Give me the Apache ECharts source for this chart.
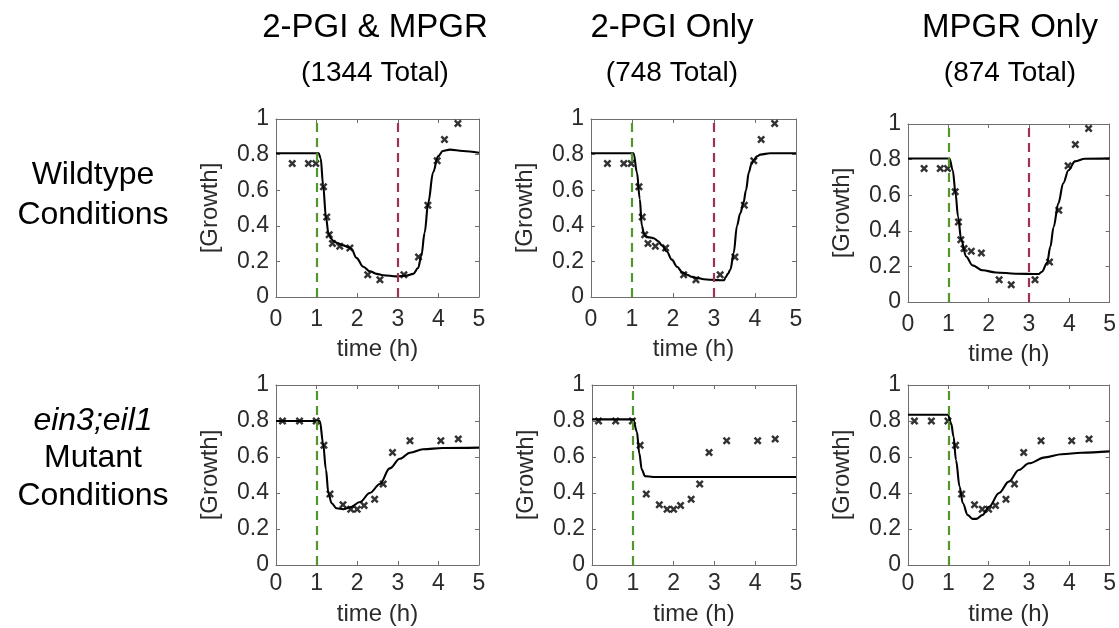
<!DOCTYPE html>
<html>
<head>
<meta charset="utf-8">
<script src="https://cdn.jsdelivr.net/npm/echarts@6/dist/echarts.min.js"></script>
<style>
html,body{margin:0;padding:0;background:#fff;}
#chart{width:1119px;height:628px;}
</style>
</head>
<body>
<div id="chart"></div>
<script>
// ---- Data ----
const columnTitles = ['2-PGI & MPGR', '2-PGI Only', 'MPGR Only'];
const columnTotals = ['(1344 Total)', '(748 Total)', '(874 Total)'];
const xTicks = [0, 1, 2, 3, 4, 5];
const yTicks = [0, 0.2, 0.4, 0.6, 0.8, 1];

// observed data (wildtype)
const wtTime   = [0.40, 0.80, 0.98, 1.17, 1.25, 1.31, 1.39, 1.57, 1.82, 2.26, 2.56, 3.15, 3.51, 3.74, 3.97, 4.15, 4.48];
const wtGrowth = [0.75, 0.75, 0.75, 0.62, 0.45, 0.35, 0.30, 0.285, 0.275, 0.125, 0.097, 0.125, 0.225, 0.515, 0.765, 0.885, 0.975];
// observed data (ein3;eil1 mutant)
const mutTime   = [0.16, 0.58, 0.99, 1.18, 1.33, 1.65, 1.84, 2.00, 2.17, 2.43, 2.64, 2.87, 3.30, 4.06, 4.49];
const mutGrowth = [0.80, 0.80, 0.80, 0.665, 0.395, 0.335, 0.31, 0.31, 0.33, 0.365, 0.45, 0.625, 0.69, 0.69, 0.70];

// model fits
const fit1T = [0, 1.05, 1.10, 1.16, 1.23, 1.29, 1.35, 1.41, 1.50, 1.66, 1.78, 1.86, 1.98, 2.15, 2.31, 2.48, 2.64, 2.97, 3.21, 3.38, 3.50, 3.58, 3.66, 3.75, 3.87, 3.99, 4.11, 4.28, 4.60, 5];
const fit1G = [0.808, 0.808, 0.78, 0.63, 0.45, 0.36, 0.33, 0.315, 0.305, 0.29, 0.28, 0.27, 0.22, 0.17, 0.145, 0.13, 0.122, 0.116, 0.12, 0.13, 0.163, 0.23, 0.36, 0.53, 0.70, 0.79, 0.82, 0.828, 0.82, 0.81];

const fit2T = [0, 1.04, 1.12, 1.19, 1.24, 1.29, 1.33, 1.43, 1.53, 1.63, 1.73, 1.85, 1.97, 2.10, 2.22, 2.34, 2.47, 2.59, 2.75, 2.91, 3.10, 3.20, 3.25, 3.28, 3.34, 3.40, 3.48, 3.56, 3.64, 3.72, 3.78, 3.85, 3.91, 3.97, 4.05, 4.13, 4.37, 5];
const fit2G = [0.808, 0.808, 0.70, 0.55, 0.40, 0.36, 0.34, 0.335, 0.33, 0.315, 0.29, 0.256, 0.21, 0.17, 0.14, 0.125, 0.113, 0.107, 0.10, 0.097, 0.095, 0.094, 0.095, 0.11, 0.13, 0.154, 0.247, 0.40, 0.47, 0.53, 0.60, 0.70, 0.745, 0.77, 0.79, 0.80, 0.808, 0.808];

const fit3T = [0, 1.03, 1.11, 1.18, 1.24, 1.32, 1.44, 1.60, 1.85, 2.18, 2.67, 3.24, 3.32, 3.45, 3.53, 3.61, 3.73, 3.85, 3.98, 4.14, 4.39, 5];
const fit3G = [0.806, 0.806, 0.74, 0.61, 0.48, 0.35, 0.256, 0.206, 0.178, 0.166, 0.159, 0.157, 0.17, 0.22, 0.31, 0.42, 0.555, 0.667, 0.74, 0.79, 0.805, 0.807];

const fit4T = [0, 1.08, 1.16, 1.23, 1.29, 1.37, 1.49, 1.66, 1.82, 2.07, 2.31, 2.56, 2.80, 3.05, 3.30, 3.62, 4.11, 5];
const fit4G = [0.80, 0.80, 0.676, 0.53, 0.40, 0.343, 0.315, 0.31, 0.32, 0.35, 0.40, 0.45, 0.537, 0.59, 0.624, 0.643, 0.65, 0.652];

const fit5T = [0, 1.01, 1.10, 1.16, 1.22, 1.30, 1.50, 5];
const fit5G = [0.809, 0.809, 0.74, 0.62, 0.53, 0.494, 0.489, 0.489];

const fit6T = [0, 0.99, 1.07, 1.13, 1.19, 1.28, 1.36, 1.48, 1.60, 1.69, 1.85, 2.01, 2.26, 2.50, 2.75, 3.00, 3.40, 3.81, 4.30, 5];
const fit6G = [0.835, 0.835, 0.787, 0.713, 0.583, 0.435, 0.343, 0.278, 0.256, 0.256, 0.278, 0.324, 0.40, 0.463, 0.528, 0.565, 0.598, 0.615, 0.624, 0.631];

// treatment markers (h)
const wtMarkers  = [1, 3];
const mutMarkers = [1];

// ---- Layout / style ----
const FONT = 'Liberation Sans, Arial, sans-serif';
const AXIS_COLOR = '#6e6e6e';
const TEXT_COLOR = '#2b2b2b';
const GREEN = '#52962c';
const RED = '#9e3350';
const XSYM = 'path://M0,2.2L2.2,0L5,2.8L7.8,0L10,2.2L7.2,5L10,7.8L7.8,10L5,7.2L2.2,10L0,7.8L2.8,5Z';

const panels = [
  {box: [276, 119, 203, 178], fitT: fit1T, fitG: fit1G, obsT: wtTime, obsG: wtGrowth, marks: wtMarkers, xGap: 40, lblMargin: 11},
  {box: [591, 119, 205, 178], fitT: fit2T, fitG: fit2G, obsT: wtTime, obsG: wtGrowth, marks: wtMarkers, xGap: 40, lblMargin: 11},
  {box: [908, 124, 204, 178], fitT: fit3T, fitG: fit3G, obsT: wtTime, obsG: wtGrowth, marks: wtMarkers, xGap: 40, lblMargin: 11},
  {box: [276, 385, 203, 180], fitT: fit4T, fitG: fit4G, obsT: mutTime, obsG: mutGrowth, marks: mutMarkers, xGap: 37, lblMargin: 7},
  {box: [592, 385, 204, 180], fitT: fit5T, fitG: fit5G, obsT: mutTime, obsG: mutGrowth, marks: mutMarkers, xGap: 37, lblMargin: 7},
  {box: [908, 385, 204, 180], fitT: fit6T, fitG: fit6G, obsT: mutTime, obsG: mutGrowth, marks: mutMarkers, xGap: 37, lblMargin: 7}
];

const grid = [], xAxis = [], yAxis = [], series = [];
const labelStyle = {color: TEXT_COLOR, fontSize: 23, fontFamily: FONT};

panels.forEach((p, i) => {
  const [l, t, w, h] = p.box;
  grid.push({left: l, top: t, width: w, height: h, show: false, containLabel: false});
  const tickStyle = {show: true, inside: true, length: 4, lineStyle: {color: AXIS_COLOR, width: 1}};
  const lineStyle = {show: true, onZero: false, lineStyle: {color: AXIS_COLOR, width: 1}};
  xAxis.push({
    gridIndex: i, type: 'value', position: 'bottom', min: xTicks[0], max: xTicks[xTicks.length - 1], interval: 1,
    axisLine: lineStyle, axisTick: tickStyle, splitLine: {show: false},
    axisLabel: Object.assign({margin: p.lblMargin}, labelStyle),
    name: 'time (h)', nameLocation: 'middle', nameGap: p.xGap,
    nameTextStyle: {color: TEXT_COLOR, fontSize: 24, fontFamily: FONT}
  });
  xAxis.push({
    gridIndex: i, type: 'value', position: 'top', min: xTicks[0], max: xTicks[xTicks.length - 1], interval: 1,
    axisLine: lineStyle, axisTick: tickStyle, splitLine: {show: false}, axisLabel: {show: false}
  });
  yAxis.push({
    gridIndex: i, type: 'value', position: 'left', min: yTicks[0], max: yTicks[yTicks.length - 1], interval: 0.2,
    axisLine: lineStyle, axisTick: tickStyle, splitLine: {show: false},
    axisLabel: Object.assign({margin: 7}, labelStyle),
    name: '[Growth]', nameLocation: 'middle', nameGap: 54,
    nameTextStyle: {color: TEXT_COLOR, fontSize: 24, fontFamily: FONT}
  });
  yAxis.push({
    gridIndex: i, type: 'value', position: 'right', min: yTicks[0], max: yTicks[yTicks.length - 1], interval: 0.2,
    axisLine: lineStyle, axisTick: tickStyle, splitLine: {show: false}, axisLabel: {show: false}
  });

  const xi = i * 2, yi = i * 2;
  series.push({
    type: 'line', xAxisIndex: xi, yAxisIndex: yi, data: [], z: 1,
    markLine: {
      silent: true, symbol: 'none', label: {show: false}, animation: false,
      data: p.marks.map((m, k) => ({xAxis: m, lineStyle: {color: k === 0 ? GREEN : RED, type: [9, 6], width: 2.2}}))
    }
  });
  series.push({
    type: 'line', xAxisIndex: xi, yAxisIndex: yi, z: 3,
    data: p.fitT.map((x, k) => [x, p.fitG[k]]),
    smooth: 0.35, smoothMonotone: 'x', showSymbol: false,
    lineStyle: {color: '#000', width: 2.1}, animation: false
  });
  series.push({
    type: 'scatter', xAxisIndex: xi, yAxisIndex: yi, z: 4,
    data: p.obsT.map((x, k) => [x, p.obsG[k]]),
    symbol: XSYM, symbolSize: 8, itemStyle: {color: '#000'}, animation: false
  });
});

const colCenters = [375, 672, 1010];
const graphic = [];
columnTitles.forEach((s, i) => {
  graphic.push({type: 'text', x: colCenters[i], y: 28, style: {text: s, fill: '#000', font: '33px ' + FONT, textAlign: 'center', textVerticalAlign: 'middle'}});
  graphic.push({type: 'text', x: colCenters[i], y: 73, style: {text: columnTotals[i], fill: '#000', font: '28px ' + FONT, textAlign: 'center', textVerticalAlign: 'middle'}});
});
const rowLabels = [
  {text: 'Wildtype', y: 175, italic: false},
  {text: 'Conditions', y: 215, italic: false},
  {text: 'ein3;eil1', y: 421, italic: true},
  {text: 'Mutant', y: 458, italic: false},
  {text: 'Conditions', y: 496, italic: false}
];
rowLabels.forEach(r => {
  graphic.push({type: 'text', x: 93, y: r.y, style: {text: r.text, fill: '#000', font: (r.italic ? 'italic ' : '') + '32px ' + FONT, textAlign: 'center', textVerticalAlign: 'middle'}});
});

const chart = echarts.init(document.getElementById('chart'), null, {renderer: 'canvas'});
chart.setOption({animation: false, backgroundColor: '#fff', grid, xAxis, yAxis, series, graphic});
</script>
</body>
</html>
